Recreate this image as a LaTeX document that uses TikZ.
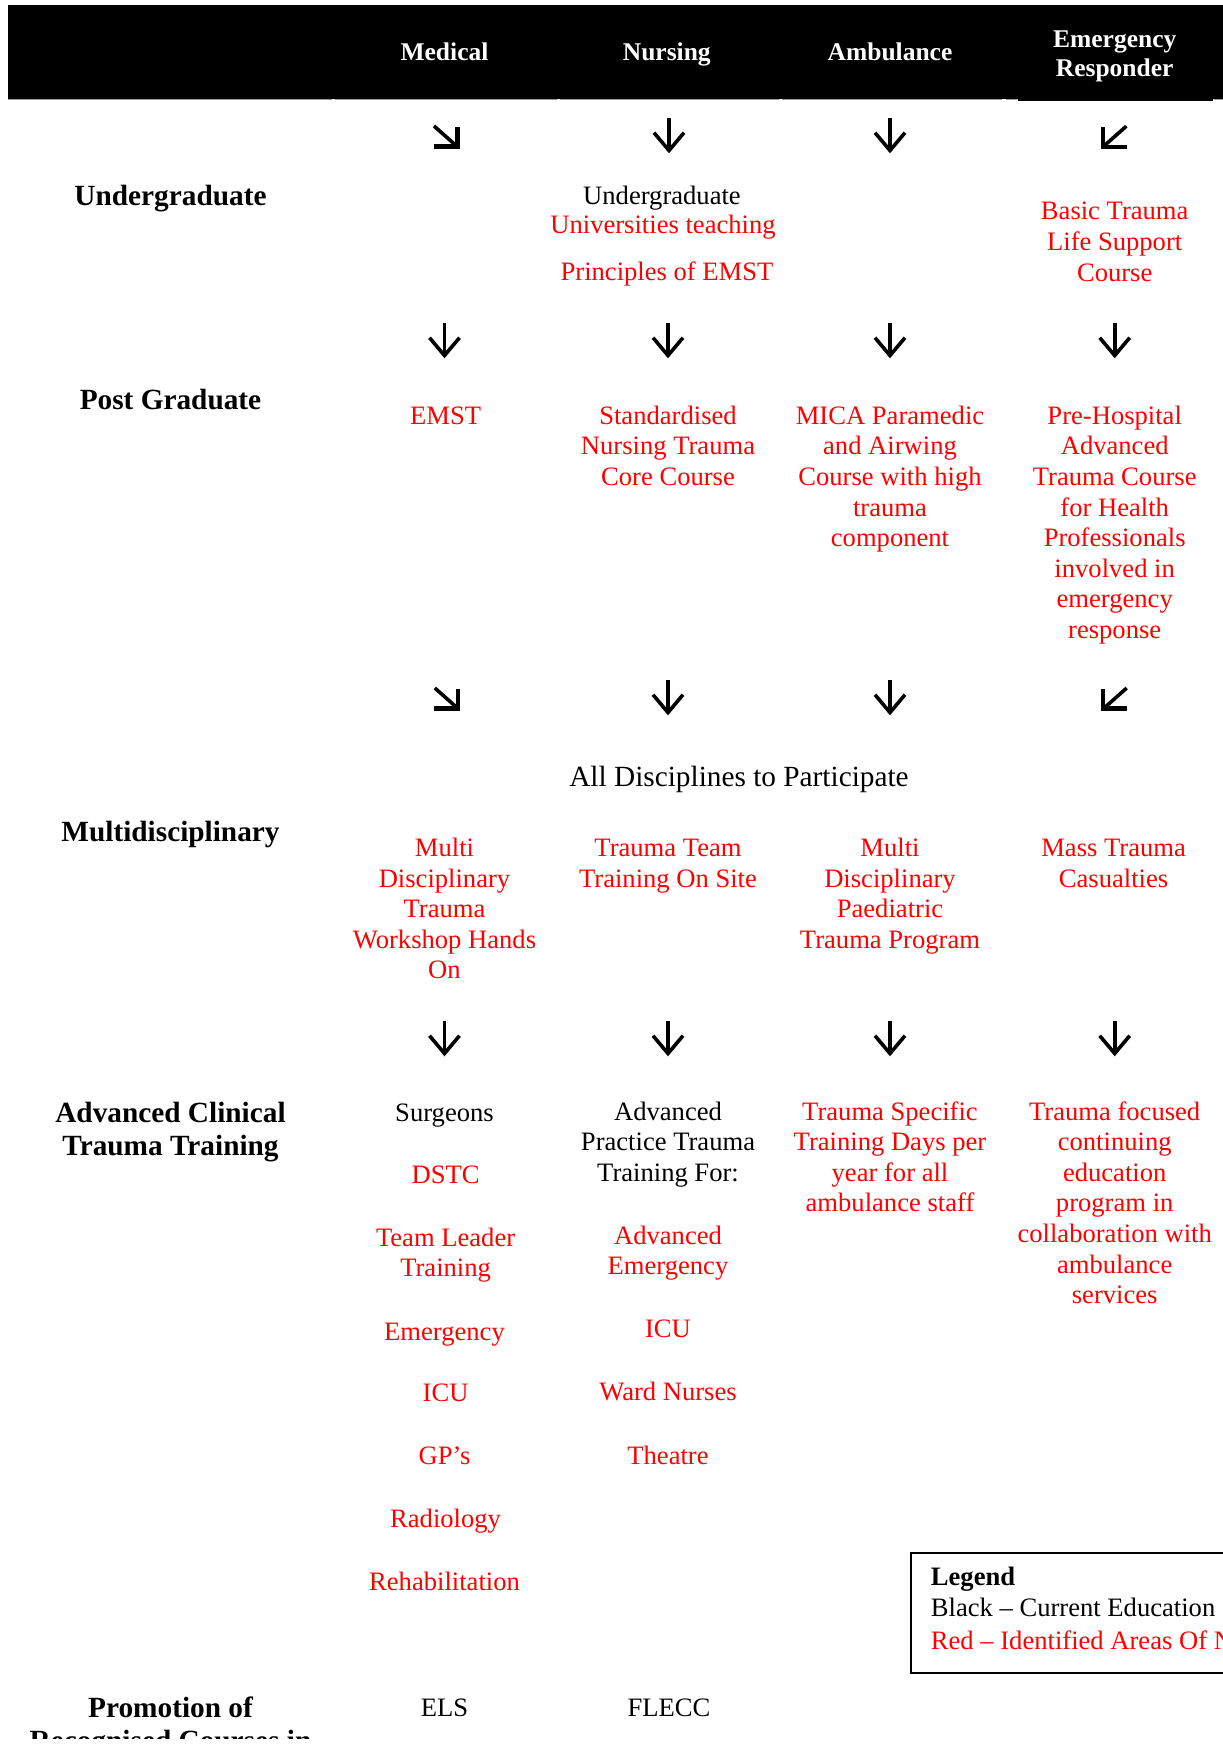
\documentclass[tikz,border=0pt]{standalone}
\usepackage{fontspec}
\setmainfont{Liberation Serif}
\definecolor{needred}{RGB}{255,0,0}
\definecolor{rulegray}{RGB}{150,150,150}
\newcommand\bodyfnt{\fontsize{26.6}{30.6}\selectfont}
\newcommand\bigfnt{\fontsize{29.3}{33.5}\selectfont}
\newcommand\lblfnt{\fontsize{29.3}{33.5}\selectfont\bfseries}
\newcommand\hdrfnt{\fontsize{25.5}{29}\selectfont\bfseries}
\tikzset{
  basebox/.style={anchor=north, inner sep=0pt, align=center},
  hdr/.style={basebox, font=\hdrfnt, text=white},
  lbl/.style={basebox, font=\lblfnt, text=black},
  cur/.style={basebox, font=\bodyfnt, text=black},
  need/.style={basebox, font=\bodyfnt, text=needred},
  legtxt/.style={anchor=north west, inner sep=0pt, font=\bodyfnt},
  arrowline/.style={line width=3.6pt, black, miter limit=4},
  darr/.pic={\draw[arrowline] (0,-16.7) -- (0,15);
             \draw[arrowline] (-15,-2.3) -- (0,15.5) -- (15,-2.3);},
  searr/.pic={\draw[arrowline] (-12,-11.5) -- (10,8);
              \draw[arrowline, line width=4.2pt] (-12.5,9) -- (11.5,9) -- (11.5,-10.5);},
  swarr/.pic={\draw[arrowline] (12,-11.5) -- (-10,8);
              \draw[arrowline, line width=4.2pt] (12.5,9) -- (-11.5,9) -- (-11.5,-10.5);},
  grayrule/.style={rulegray, line width=1.2pt}
}
\begin{document}
\begin{tikzpicture}[x=1pt,y=-1pt]
\useasboundingbox (0,0) rectangle (1223,1751);
\fill[white] (0,0) rectangle (1223,1751);
\clip (0,0) rectangle (1223,1738);
% header bar
\fill[black] (8,4.5) rectangle (1223,98.5);
\fill[black] (1018,98) rectangle (1213,100.5);
\draw[grayrule] (8,99.2) -- (332,99.2);
\draw[grayrule] (335,99.2) -- (557,99.2);
\draw[grayrule] (559.5,99.2) -- (779,99.2);
\draw[grayrule] (782,99.2) -- (1002,99.2);
\draw[grayrule] (1006,99.2) -- (1017,99.2);
\draw[grayrule] (1214,99.2) -- (1223,99.2);
\node[hdr] (hMed) at (444.5,40.4) {\strut Medical};
\node[hdr] (hNur) at (666.8,40.4) {\strut Nursing};
\node[hdr] (hAmb) at (890,40.4) {\strut Ambulance};
\node[hdr] (hEmr) at (1114.7,27) {\strut Emergency\\Responder};
% row labels
\node[lbl] (lUG) at (170.5,181.6) {\strut Undergraduate};
\node[lbl] (lPG) at (170.5,386) {\strut Post Graduate};
\node[lbl] (lMD) at (170.5,818.2) {\strut Multidisciplinary};
\node[lbl] (lACT) at (170.5,1098.5) {\strut Advanced Clinical\\Trauma Training};
\node[lbl] (lPRC) at (170.5,1693.8) {\strut Promotion of\\Recognised Courses in};
% arrows row 1
\pic at (446,137.5) {searr};
\pic at (669,135) {darr};
\pic at (890,135) {darr};
\pic at (1114.3,137.7) {swarr};
% undergraduate
\node[cur] (ugNurA) at (662,182.6) {\strut Undergraduate};
\node[need] (ugNurB) at (663,211.6) {\strut Universities teaching};
\node[need] (ugNurC) at (667,258.5) {\strut Principles of EMST};
\node[need] (ugEmr) at (1114.7,198.2) {\strut Basic Trauma\\Life Support\\Course};
% arrows row 2
\pic at (444.5,340) {darr};
\pic at (668,340) {darr};
\pic at (890,340) {darr};
\pic at (1114.7,340) {darr};
% post graduate
\node[need] (pgMed) at (445.6,402.6) {\strut EMST};
\node[need] (pgNur) at (668,402.6) {\strut Standardised\\Nursing Trauma\\Core Course};
\node[need] (pgAmb) at (890,402.6) {\strut MICA Paramedic\\and Airwing\\Course with high\\trauma\\component};
\node[need] (pgEmr) at (1114.7,402.6) {\strut Pre-Hospital\\Advanced\\Trauma Course\\for Health\\Professionals\\involved in\\emergency\\response};
% arrows row 3
\pic at (446.8,699.5) {searr};
\pic at (668,697) {darr};
\pic at (890,697) {darr};
\pic at (1114.7,699.5) {swarr};
% multidisciplinary
\node[cur, font=\bigfnt] (allD) at (739,763.2) {\strut All Disciplines to Participate};
\node[need] (mdMed) at (444.5,834.8) {\strut Multi\\Disciplinary\\Trauma\\Workshop Hands\\On};
\node[need] (mdNur) at (668,834.8) {\strut Trauma Team\\Training On Site};
\node[need] (mdAmb) at (890,834.8) {\strut Multi\\Disciplinary\\Paediatric\\Trauma Program};
\node[need] (mdEmr) at (1113.6,834.8) {\strut Mass Trauma\\Casualties};
% arrows row 4
\pic at (444.5,1038) {darr};
\pic at (668,1038) {darr};
\pic at (890,1038) {darr};
\pic at (1114.7,1038) {darr};
% advanced clinical
\node[cur] (acSurg) at (444.5,1099.5) {\strut Surgeons};
\node[need] (acDSTC) at (445.6,1162.1) {\strut DSTC};
\node[need] (acTLT) at (445.6,1224.6) {\strut Team Leader\\Training};
\node[need] (acEmMed) at (444.5,1318.4) {\strut Emergency};
\node[need] (acICUMed) at (445.6,1379.9) {\strut ICU};
\node[need] (acGP) at (444.5,1442.4) {\strut GP’s};
\node[need] (acRad) at (445.6,1506.1) {\strut Radiology};
\node[need] (acReh) at (444.5,1568.6) {\strut Rehabilitation};
\node[cur] (acAPT) at (668,1098.4) {\strut Advanced\\Practice Trauma\\Training For:};
\node[need] (acAE) at (668,1222.4) {\strut Advanced\\Emergency};
\node[need] (acICUNur) at (668,1316.2) {\strut ICU};
\node[need] (acWard) at (668,1378.8) {\strut Ward Nurses};
\node[need] (acTheatre) at (668,1442.4) {\strut Theatre};
\node[need] (acAmb) at (890,1098.4) {\strut Trauma Specific\\Training Days per\\year for all\\ambulance staff};
\node[need] (acEmr) at (1114.7,1098.4) {\strut Trauma focused\\continuing\\education\\program in\\collaboration with\\ambulance\\services};
% promotion
\node[cur] (prELS) at (444.5,1694.8) {\strut ELS};
\node[cur] (prFLECC) at (669,1694.8) {\strut FLECC};
% legend
\node[draw, line width=2pt, anchor=north west, inner sep=0pt, minimum width=340pt, minimum height=120pt] (legbox) at (910,1552) {};
\node[legtxt, font=\bodyfnt\bfseries] (legT) at (930.7,1564.1) {\strut Legend};
\node[legtxt] (legB) at (930.7,1595.1) {\strut Black – Current Education};
\node[legtxt, text=needred] (legR) at (930.7,1627.8) {\strut Red – Identified Areas Of Need};
\end{tikzpicture}
\end{document}
